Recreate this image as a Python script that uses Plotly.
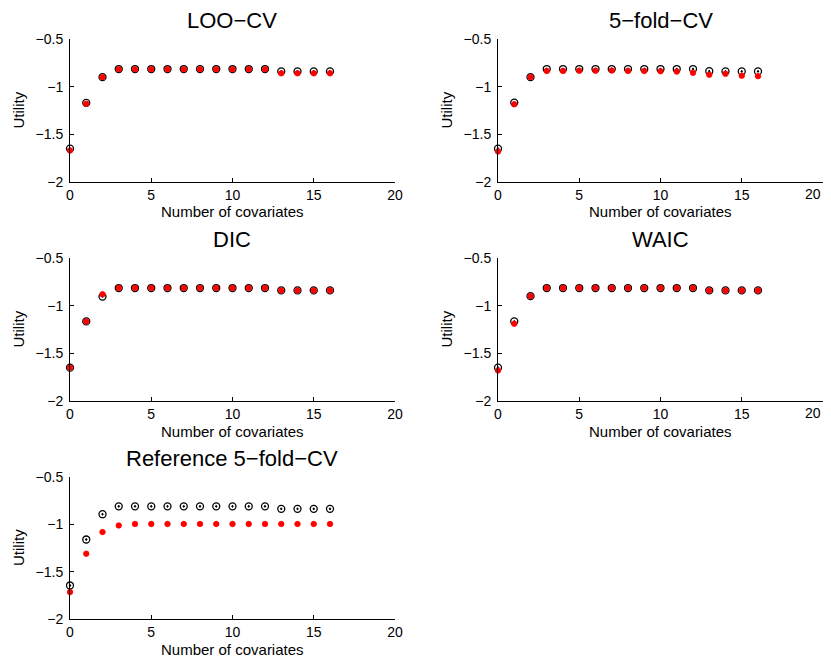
import plotly.graph_objects as go

x = list(range(17))

titles = ["LOO\u2212CV", "5\u2212fold\u2212CV", "DIC", "WAIC", "Reference 5\u2212fold\u2212CV"]

black_loo = [-1.65, -1.17, -0.90, -0.815, -0.815, -0.815, -0.815, -0.815, -0.815, -0.815, -0.815, -0.815, -0.815, -0.84, -0.84, -0.84, -0.84]
red_loo   = [-1.67, -1.18, -0.90, -0.818, -0.818, -0.818, -0.818, -0.818, -0.818, -0.818, -0.818, -0.818, -0.818, -0.86, -0.86, -0.86, -0.86]

black_5f = [-1.65, -1.167, -0.90, -0.815, -0.815, -0.815, -0.815, -0.815, -0.815, -0.815, -0.815, -0.815, -0.815, -0.838, -0.84, -0.84, -0.84]
red_5f   = [-1.68, -1.185, -0.90, -0.835, -0.835, -0.832, -0.832, -0.83, -0.835, -0.835, -0.838, -0.842, -0.855, -0.875, -0.865, -0.885, -0.89]

black_dic = [-1.65, -1.165, -0.905, -0.815, -0.815, -0.815, -0.815, -0.815, -0.815, -0.815, -0.815, -0.815, -0.815, -0.84, -0.84, -0.84, -0.84]
red_dic   = [-1.65, -1.165, -0.88, -0.815, -0.815, -0.815, -0.815, -0.815, -0.815, -0.815, -0.815, -0.815, -0.815, -0.84, -0.84, -0.84, -0.84]

black_waic = [-1.65, -1.165, -0.90, -0.815, -0.815, -0.815, -0.815, -0.815, -0.815, -0.815, -0.815, -0.815, -0.815, -0.84, -0.84, -0.84, -0.84]
red_waic   = [-1.68, -1.19, -0.90, -0.815, -0.815, -0.815, -0.815, -0.815, -0.815, -0.815, -0.815, -0.815, -0.815, -0.84, -0.84, -0.84, -0.84]

black_ref = [-1.646, -1.16, -0.893, -0.81, -0.81, -0.81, -0.81, -0.81, -0.81, -0.81, -0.81, -0.81, -0.81, -0.836, -0.836, -0.836, -0.836]
red_ref   = [-1.716, -1.31, -1.082, -1.012, -0.996, -0.996, -0.996, -0.996, -0.996, -0.996, -0.996, -0.996, -0.996, -0.996, -0.996, -0.996, -0.996]

err_black = 0.01
err_red = 0.012

xticks = [0, 5, 10, 15, 20]
yticks = [-2, -1.5, -1, -0.5]
yticktext = ["\u22122", "\u22121.5", "\u22121", "\u22120.5"]

series = [(black_loo, red_loo), (black_5f, red_5f), (black_dic, red_dic),
          (black_waic, red_waic), (black_ref, red_ref)]

# page body has an 8px margin: figure drawn 8px in from top-left
OFF = 8
W, H = 831 - OFF, 660 - OFF
# panel pixel boxes in page pixels (left, right, top, bottom)
boxes = [(70, 395, 39, 182), (498, 823, 39, 182),
         (70, 395, 258, 401), (498, 823, 258, 401),
         (70, 395, 477, 619)]

FONT = "Liberation Sans, Arial, Helvetica, sans-serif"

def px(v):
    return (v - OFF) / W

def py(v):
    return 1 - (v - OFF) / H

fig = go.Figure()
annotations = []
for i, ((b, r), (l, rr, t, bt)) in enumerate(zip(series, boxes)):
    n = i + 1
    xa = "x" if n == 1 else f"x{n}"
    ya = "y" if n == 1 else f"y{n}"
    fig.add_trace(go.Scatter(x=x, y=b, mode="markers", xaxis=xa, yaxis=ya,
                             marker=dict(symbol="circle-open-dot", size=7, color="black",
                                         line=dict(width=1.3, color="black")),
                             error_y=dict(type="constant", value=err_black, color="black",
                                          thickness=1, width=0),
                             showlegend=False, cliponaxis=False))
    fig.add_trace(go.Scatter(x=x, y=r, mode="markers", xaxis=xa, yaxis=ya,
                             marker=dict(symbol="circle", size=5.5, color="#ff0000",
                                         line=dict(width=0.8, color="#ff0000")),
                             error_y=dict(type="constant", value=err_red, color="#b00000",
                                          thickness=1, width=0),
                             showlegend=False, cliponaxis=False))
    xdom = [px(l), min(px(rr), 1.0)]
    ydom = [py(bt), py(t)]
    axkey = "xaxis" if n == 1 else f"xaxis{n}"
    aykey = "yaxis" if n == 1 else f"yaxis{n}"
    right = (n in (2, 4))
    fig.update_layout(**{
        axkey: dict(domain=xdom, range=[0, 20], anchor=ya, tickvals=xticks,
                    ticktext=["0", "5", "10", "15", "" if right else "20"],
                    ticks="inside", ticklen=4, tickcolor="black", showgrid=False,
                    zeroline=False, showline=True, linecolor="black", linewidth=1,
                    automargin=False, ticklabeloverflow="allow",
                    tickfont=dict(family=FONT, size=14, color="black")),
        aykey: dict(domain=ydom, range=[-2, -0.5], anchor=xa, tickvals=yticks,
                    ticktext=yticktext, ticks="inside", ticklen=4, tickcolor="black",
                    showgrid=False, zeroline=False, showline=True, linecolor="black",
                    linewidth=1, automargin=False, ticklabeloverflow="allow",
                    ticklabelstandoff=3,
                    tickfont=dict(family=FONT, size=14, color="black")),
    })
    if right:
        # last x tick label, on the axis scale at x = 20, kept inside the page edge
        annotations.append(dict(text=str(xticks[-1]), x=xticks[-1], xref=xa, y=0,
                                yref=f"{ya} domain", xanchor="right", yanchor="top",
                                yshift=-2, showarrow=False,
                                font=dict(family=FONT, size=14, color="black")))
    cx = px((l + rr) / 2)
    annotations.append(dict(text=titles[i], x=cx, y=py(t - 19), xref="paper", yref="paper",
                            showarrow=False, xanchor="center", yanchor="middle",
                            font=dict(family=FONT, size=22, color="black")))
    annotations.append(dict(text="Number of covariates", x=cx, y=py(bt + 30), xref="paper",
                            yref="paper", showarrow=False, xanchor="center", yanchor="middle",
                            font=dict(family=FONT, size=15, color="black")))
    annotations.append(dict(text="Utility", x=px(l - 52), y=py((t + bt) / 2), xref="paper",
                            yref="paper", showarrow=False, xanchor="center", yanchor="middle",
                            textangle=-90, font=dict(family=FONT, size=15, color="black")))

fig.update_layout(width=W, height=H, margin=dict(l=0, r=0, t=0, b=0),
                  paper_bgcolor="white", plot_bgcolor="white",
                  annotations=annotations, showlegend=False)

fig.write_html("out.html")
